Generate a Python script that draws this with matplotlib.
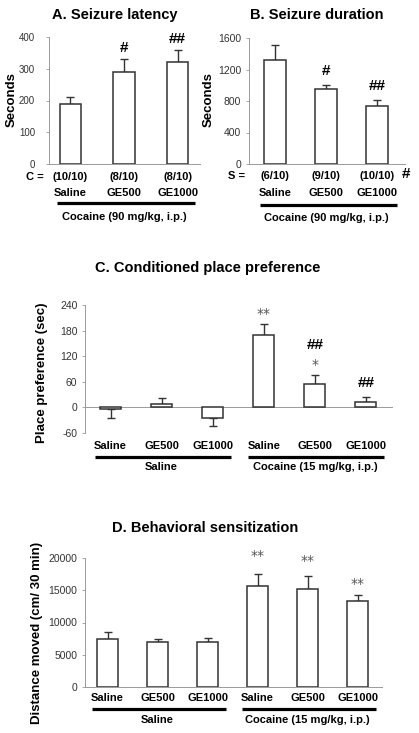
import matplotlib
matplotlib.use("Agg")
import matplotlib.pyplot as plt
from matplotlib.transforms import ScaledTranslation
import numpy as np

plt.rcParams['font.family'] = ['Liberation Sans', 'DejaVu Sans']

# ---------------- data ----------------
cats_A = ["Saline", "GE500", "GE1000"]
counts_A = ["(10/10)", "(8/10)", "(8/10)"]
mean_A = [190, 290, 322]
sem_A = [20, 40, 38]
sig_A = ["", "#", "##"]
yticks_A = [0, 100, 200, 300, 400]

cats_B = ["Saline", "GE500", "GE1000"]
counts_B = ["(6/10)", "(9/10)", "(10/10)"]
mean_B = [1320, 950, 740]
sem_B = [190, 50, 70]
sig_B = ["", "#", "##"]
yticks_B = [0, 400, 800, 1200, 1600]

cats_C = ["Saline", "GE500", "GE1000", "Saline", "GE500", "GE1000"]
mean_C = [-3, 7, -25, 170, 56, 12]
sem_C = [21, 14, 19, 25, 19, 12]
sig_C = ["", "", "", "**", "*", ""]
sig2_C = ["", "", "", "", "##", "##"]
yticks_C = [-60, 0, 60, 120, 180, 240]

cats_D = ["Saline", "GE500", "GE1000", "Saline", "GE500", "GE1000"]
mean_D = [7400, 7050, 7050, 15600, 15150, 13300]
sem_D = [1050, 450, 600, 1850, 2000, 900]
sig_D = ["", "", "", "**", "**", "**"]
yticks_D = [0, 5000, 10000, 15000, 20000]

groups_6 = ["Saline", "Cocaine (15 mg/kg, i.p.)"]
group_A = "Cocaine (90 mg/kg, i.p.)"

# ---------------- layout helpers ----------------
W, H = 419, 733
fig = plt.figure(figsize=(W / 100, H / 100), dpi=100)


def axes_px(x0, x1, ytop, ybot):
    return fig.add_axes([x0 / W, 1 - ybot / H, (x1 - x0) / W, (ybot - ytop) / H])


def ftext(x, y, s, **kw):
    fig.text(x / W, 1 - y / H, s, **kw)


AX_GRAY = '#9a9a9a'
TXT_GRAY = '#333333'
EDGE = '#333333'


def style(ax, yticks, ylim, xlim, pad, zero_line=False, lsize=7.5):
    ax.set_ylim(*ylim)
    ax.set_xlim(*xlim)
    ax.set_yticks(yticks)
    ax.set_yticklabels([str(t) for t in yticks])
    ax.set_xticks([])
    for s in ['top', 'right']:
        ax.spines[s].set_visible(False)
    ax.spines['left'].set_color(AX_GRAY)
    ax.spines['left'].set_linewidth(0.7)
    if zero_line:
        ax.spines['bottom'].set_visible(False)
        ax.axhline(0, color=AX_GRAY, lw=0.7, zorder=1)
    else:
        ax.spines['bottom'].set_color(AX_GRAY)
        ax.spines['bottom'].set_linewidth(0.7)
    ax.tick_params(axis='y', length=2.5, width=0.6, color=AX_GRAY,
                   labelsize=lsize, labelcolor=TXT_GRAY, pad=pad)
    ax.patch.set_alpha(0)


def bars(ax, means, sems, width):
    x = np.arange(len(means))
    ax.bar(x, means, width=width, color='white', edgecolor=EDGE, linewidth=1.1, zorder=3)
    m = np.array(means, float)
    s = np.array(sems, float)
    lower = np.where(m < 0, s, 0)
    upper = np.where(m >= 0, s, 0)
    ax.errorbar(x, m, yerr=[lower, upper], fmt='none', ecolor=EDGE,
                elinewidth=1.0, capsize=3, capthick=1.0, zorder=2)
    return x


def below(ax, dy_px):
    return ax.get_xaxis_transform() + ScaledTranslation(0, -dy_px / 100, fig.dpi_scale_trans)


def annot(ax, x, y, s, dy_px, **kw):
    ax.annotate(s, xy=(x, y), xytext=(0, dy_px * 0.72), textcoords='offset points',
                ha='center', va='center', annotation_clip=False, **kw)


HASH = dict(fontsize=11, fontweight='bold', color='black')
STAR = dict(fontsize=10, color='#555555', family='DejaVu Sans')
LAB = dict(fontsize=8, fontweight='bold', color='black', ha='center', va='center')

# ---------------- Panel A ----------------
axA = axes_px(49, 200, 37, 164)
style(axA, yticks_A, (0, 400), (-0.4, 2.42), pad=7.5, lsize=7)
xA = bars(axA, mean_A, sem_A, 0.4)
for i, s in enumerate(sig_A):
    if s:
        annot(axA, xA[i], mean_A[i] + sem_A[i], s, 11, **HASH)
for i in range(len(cats_A)):
    axA.text(xA[i], 0, counts_A[i], transform=below(axA, 13), **LAB)
    axA.text(xA[i], 0, cats_A[i], transform=below(axA, 29), **LAB)
axA.text(-0.66, 0, "C =", transform=below(axA, 13), **LAB)
axA.plot([xA[0] - 0.25, xA[-1] + 0.32], [0, 0], color='black', lw=2.3,
         transform=below(axA, 39), clip_on=False, solid_capstyle='butt')
axA.text(np.mean(xA), 0, group_A, transform=below(axA, 53), **LAB)
ftext(115, 15, "A. Seizure latency", fontsize=10.5, fontweight='bold', ha='center', va='center')
ftext(12, 100, "Seconds", fontsize=9.5, fontweight='bold', rotation=90, ha='center', va='center')

# ---------------- Panel B ----------------
axB = axes_px(249, 405, 38, 164)
style(axB, yticks_B, (0, 1600), (-0.51, 2.54), pad=3)
xB = bars(axB, mean_B, sem_B, 0.43)
for i, s in enumerate(sig_B):
    if s:
        annot(axB, xB[i], mean_B[i] + sem_B[i], s, 14, **HASH)
for i in range(len(cats_B)):
    axB.text(xB[i], 0, counts_B[i], transform=below(axB, 12), **LAB)
    axB.text(xB[i], 0, cats_B[i], transform=below(axB, 29), **LAB)
axB.text(-0.75, 0, "S =", transform=below(axB, 12), **LAB)
axB.text(2.55, 0, "#", transform=below(axB, 10), fontsize=11, fontweight='bold',
         ha='center', va='center')
axB.plot([xB[0] - 0.3, xB[-1] + 0.38], [0, 0], color='black', lw=2.3,
         transform=below(axB, 41), clip_on=False, solid_capstyle='butt')
axB.text(np.mean(xB), 0, group_A, transform=below(axB, 54), **LAB)
ftext(317, 15, "B. Seizure duration", fontsize=10.5, fontweight='bold', ha='center', va='center')
ftext(209, 100, "Seconds", fontsize=9.5, fontweight='bold', rotation=90, ha='center', va='center')

# ---------------- Panel C ----------------
axC = axes_px(85, 393, 305, 433)
style(axC, yticks_C, (-60, 240), (-0.5, 5.53), pad=3, zero_line=True)
xC = bars(axC, mean_C, sem_C, 0.41)
for i in range(len(cats_C)):
    top = mean_C[i] + sem_C[i]
    if sig_C[i] and sig2_C[i]:
        annot(axC, xC[i], top, sig_C[i], 10, **STAR)
        annot(axC, xC[i], top, sig2_C[i], 30, **HASH)
    elif sig_C[i]:
        annot(axC, xC[i], top, sig_C[i], 10, **STAR)
    elif sig2_C[i]:
        annot(axC, xC[i], top, sig2_C[i], 14, **HASH)
    axC.text(xC[i], 0, cats_C[i], transform=below(axC, 13), **LAB)
for g, sl in enumerate([slice(0, 3), slice(3, 6)]):
    xs = xC[sl]
    axC.plot([xs[0] - 0.31, xs[-1] + 0.35], [0, 0], color='black', lw=2.3,
             transform=below(axC, 24), clip_on=False, solid_capstyle='butt')
    axC.text(np.mean(xs), 0, groups_6[g], transform=below(axC, 34), **LAB)
ftext(208, 268, "C. Conditioned place preference", fontsize=10.5, fontweight='bold',
      ha='center', va='center')
ftext(42, 373, "Place preference (sec)", fontsize=9.5, fontweight='bold', rotation=90,
      ha='center', va='center')

# ---------------- Panel D ----------------
axD = axes_px(85, 382, 558, 687)
style(axD, yticks_D, (0, 20000), (-0.45, 5.49), pad=3)
xD = bars(axD, mean_D, sem_D, 0.42)
star_off_D = [0, 0, 0, 18, 15, 11]
for i in range(len(cats_D)):
    if sig_D[i]:
        annot(axD, xD[i], mean_D[i] + sem_D[i], sig_D[i], star_off_D[i], **STAR)
    axD.text(xD[i], 0, cats_D[i], transform=below(axD, 11), **LAB)
for g, sl in enumerate([slice(0, 3), slice(3, 6)]):
    xs = xD[sl]
    axD.plot([xs[0] - 0.31, xs[-1] + 0.37], [0, 0], color='black', lw=2.3,
             transform=below(axD, 22), clip_on=False, solid_capstyle='butt')
    axD.text(np.mean(xs), 0, groups_6[g], transform=below(axD, 33), **LAB)
ftext(205, 528, "D. Behavioral sensitization", fontsize=10.5, fontweight='bold',
      ha='center', va='center')
ftext(37, 633, "Distance moved (cm/ 30 min)", fontsize=9.5, fontweight='bold', rotation=90,
      ha='center', va='center')

fig.savefig("out.png", dpi=100)
